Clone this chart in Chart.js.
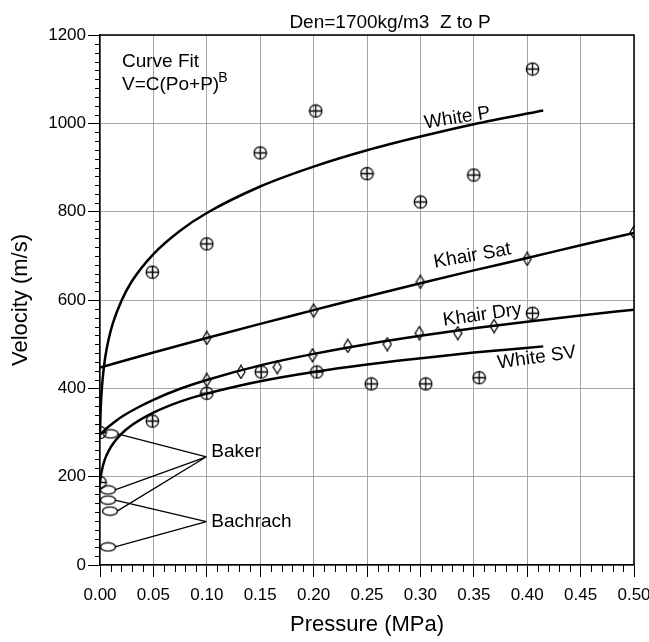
<!DOCTYPE html>
<html>
<head>
<meta charset="utf-8">
<script src="https://cdn.jsdelivr.net/npm/chart.js@4.4.1/dist/chart.umd.min.js"></script>
<style>
  html, body { margin: 0; padding: 0; background: #fff; }
</style>
</head>
<body>
<canvas id="chart" width="649" height="642"></canvas>
<script>
// Fitted curves V = C(Po+P)^B
const whiteFitP   = [0, 0.0005, 0.001, 0.002, 0.003, 0.005, 0.008, 0.012, 0.02, 0.03, 0.05, 0.075, 0.1, 0.15, 0.2, 0.25, 0.3, 0.35, 0.415];
const whitePFit   = [300, 344, 372, 408, 434, 472, 510, 547, 598, 643, 704, 757, 797, 857, 902, 939, 970, 998, 1029];
const whiteSVFit  = [188, 197, 205, 217, 227, 242, 258, 274, 297, 317, 345, 370, 388, 416, 437, 454, 468, 481, 495];

const khairFitP   = [0, 0.005, 0.01, 0.02, 0.035, 0.05, 0.075, 0.1, 0.15, 0.2, 0.25, 0.3, 0.35, 0.4, 0.45, 0.5];
const khairDryFit = [295, 307, 317, 335, 356, 374, 399, 419, 452, 478, 500, 519, 536, 551, 565, 578];
const khairSatP   = [0, 0.05, 0.1, 0.15, 0.2, 0.25, 0.3, 0.35, 0.4, 0.45, 0.5];
const khairSatFit = [447, 481, 514, 546, 577, 608, 638, 667, 695, 724, 752];

// Measured points
const whitePDataP  = [0, 0.049, 0.1, 0.15, 0.202, 0.25, 0.30, 0.35, 0.405];
const whitePDataV  = [300, 663, 727, 933, 1028, 886, 822, 883, 1123];
const whiteSVDataP = [0, 0.049, 0.1, 0.151, 0.203, 0.254, 0.305, 0.355, 0.405];
const whiteSVDataV = [187, 326, 389, 437, 437, 410, 410, 424, 570];
const khairSatDataP = [0.1, 0.2, 0.3, 0.4, 0.5];
const khairSatDataV = [514, 576, 641, 693, 753];
const khairDryDataP = [0.1, 0.132, 0.166, 0.199, 0.232, 0.269, 0.299, 0.335, 0.369];
const khairDryDataV = [419, 437, 448, 475, 496, 500, 525, 525, 541];
const bakerP    = [0.010, 0.0075, 0.0094];
const bakerV    = [297, 170, 122];
const bachrachP = [0.0075, 0.0075];
const bachrachV = [147, 41];

const xTicks = [0, 0.05, 0.1, 0.15, 0.2, 0.25, 0.3, 0.35, 0.4, 0.45, 0.5];
const yTicks = [0, 200, 400, 600, 800, 1000, 1200];

const FONT = '"Liberation Sans", Arial, Helvetica, sans-serif';
const pts = (xs, ys) => xs.map((x, i) => ({ x, y: ys[i] }));

function makeMarker(w, h, draw) {
  const c = document.createElement('canvas');
  c.width = w; c.height = h;
  const g = c.getContext('2d');
  g.strokeStyle = '#000';
  g.lineWidth = 1.3;
  draw(g);
  return c;
}
const circlePlus = makeMarker(15, 15, g => {
  g.beginPath(); g.arc(7.5, 7.5, 6.2, 0, Math.PI * 2); g.stroke();
  g.beginPath();
  g.moveTo(7.5, 1.5); g.lineTo(7.5, 13.5);
  g.moveTo(1.5, 7.5); g.lineTo(13.5, 7.5);
  g.stroke();
});
const diamond = makeMarker(10, 15, g => {
  g.beginPath();
  g.moveTo(5, 1); g.lineTo(9, 7.5); g.lineTo(5, 14); g.lineTo(1, 7.5);
  g.closePath(); g.stroke();
});
const ellipse = makeMarker(18, 11, g => {
  g.beginPath(); g.ellipse(9, 5.5, 7.5, 4.2, 0, 0, Math.PI * 2); g.stroke();
});

function curve(xs, ys) {
  return {
    data: pts(xs, ys), showLine: true, pointRadius: 0,
    borderColor: '#000', borderWidth: 2.5, cubicInterpolationMode: 'monotone'
  };
}
function marks(xs, ys, style) {
  return { data: pts(xs, ys), showLine: false, pointStyle: style, pointRadius: 7, borderColor: '#000' };
}

// text and leader lines
const annotations = {
  id: 'annotations',
  afterDraw(chart) {
    const { ctx, chartArea: a, scales: { x, y } } = chart;
    ctx.save();
    ctx.strokeStyle = '#000';
    ctx.lineWidth = 1.5;
    ctx.beginPath();
    ctx.moveTo(a.left, a.top); ctx.lineTo(a.right, a.top); ctx.lineTo(a.right, a.bottom);
    ctx.stroke();

    // minor ticks
    ctx.lineWidth = 1;
    ctx.beginPath();
    for (let v = 20; v < 1200; v += 20) {
      if (v % 200 === 0) continue;
      const py = Math.round(y.getPixelForValue(v)) + 0.5;
      ctx.moveTo(a.left - 5, py); ctx.lineTo(a.left, py);
    }
    for (let i = 1; i < 50; i++) {
      if (i % 5 === 0) continue;
      const px = Math.round(x.getPixelForValue(i / 100)) + 0.5;
      ctx.moveTo(px, a.bottom); ctx.lineTo(px, a.bottom + 7);
    }
    ctx.stroke();

    ctx.fillStyle = '#000';
    ctx.textBaseline = 'alphabetic';
    ctx.font = '19px ' + FONT;
    ctx.textAlign = 'center';
    ctx.fillText('Den=1700kg/m3  Z to P', 390, 28);

    ctx.textAlign = 'left';
    ctx.fillText('Curve Fit', 122, 67);
    const f = 'V=C(Po+P)';
    ctx.fillText(f, 122, 90);
    const fw = ctx.measureText(f).width;
    ctx.font = '14px ' + FONT;
    ctx.fillText('B', 122 + fw - 1, 82);

    // curve labels
    ctx.font = '19px ' + FONT;
    ctx.textAlign = 'center';
    ctx.textBaseline = 'middle';
    const labels = [
      ['White P', 0.3346, 1012, -9],
      ['Khair Sat', 0.3487, 700, -10],
      ['Khair Dry', 0.358, 566, -8],
      ['White SV', 0.409, 469, -8]
    ];
    labels.forEach(([t, px, pv, ang]) => {
      ctx.save();
      ctx.translate(x.getPixelForValue(px), y.getPixelForValue(pv));
      ctx.rotate(ang * Math.PI / 180);
      ctx.fillText(t, 0, 0);
      ctx.restore();
    });

    // leader lines
    const groups = [
      ['Baker', bakerP, bakerV, 0.0996, 245],
      ['Bachrach', bachrachP, bachrachV, 0.0996, 98]
    ];
    ctx.lineWidth = 1.3;
    ctx.textAlign = 'left';
    ctx.textBaseline = 'alphabetic';
    groups.forEach(([t, ps, vs, ax, ay]) => {
      const axp = x.getPixelForValue(ax), ayp = y.getPixelForValue(ay);
      ctx.beginPath();
      ps.forEach((p, i) => {
        ctx.moveTo(x.getPixelForValue(p) + 7, y.getPixelForValue(vs[i]));
        ctx.lineTo(axp, ayp);
      });
      ctx.stroke();
      ctx.fillText(t, axp + 5, ayp + (t === 'Baker' ? 0 : 5));
    });
    ctx.restore();
  }
};

new Chart(document.getElementById('chart'), {
  type: 'scatter',
  data: {
    datasets: [
      curve(whiteFitP, whitePFit),
      curve(whiteFitP, whiteSVFit),
      curve(khairSatP, khairSatFit),
      curve(khairFitP, khairDryFit),
      marks(whitePDataP, whitePDataV, circlePlus),
      marks(whiteSVDataP, whiteSVDataV, circlePlus),
      marks(khairSatDataP, khairSatDataV, diamond),
      marks(khairDryDataP, khairDryDataV, diamond),
      marks(bakerP, bakerV, ellipse),
      marks(bachrachP, bachrachV, ellipse)
    ]
  },
  options: {
    responsive: false,
    animation: false,
    layout: { padding: { top: 35, right: 15, left: 0, bottom: 0 } },
    plugins: { legend: { display: false }, tooltip: { enabled: false } },
    scales: {
      x: {
        type: 'linear', min: 0, max: 0.5,
        afterFit(s) { s.height = 77; s.paddingLeft = 0; s.paddingRight = 0; },
        afterBuildTicks(s) { s.ticks = xTicks.map(v => ({ value: v })); },
        ticks: {
          callback: v => v.toFixed(2), font: { family: FONT, size: 17 }, color: '#000',
          padding: 8, maxRotation: 0, autoSkip: false
        },
        grid: { color: '#a6a6a6', lineWidth: 1, tickColor: '#000', tickLength: 12 },
        border: { color: '#000', width: 1.5 },
        title: {
          display: true, text: 'Pressure (MPa)', color: '#000',
          font: { family: FONT, size: 22 }, padding: { top: 4, bottom: 4 }
        }
      },
      y: {
        type: 'linear', min: 0, max: 1200,
        afterFit(s) { s.width = 100; s.paddingTop = 0; s.paddingBottom = 0; },
        afterBuildTicks(s) { s.ticks = yTicks.map(v => ({ value: v })); },
        ticks: { callback: v => String(v), font: { family: FONT, size: 17 }, color: '#000', padding: 2 },
        grid: { color: '#a6a6a6', lineWidth: 1, tickColor: '#000', tickLength: 12 },
        border: { color: '#000', width: 1.5 },
        title: {
          display: true, text: 'Velocity (m/s)', color: '#000',
          font: { family: FONT, size: 22 }, padding: { top: 8, bottom: 4 }
        }
      }
    }
  },
  plugins: [annotations]
});
</script>
</body>
</html>
